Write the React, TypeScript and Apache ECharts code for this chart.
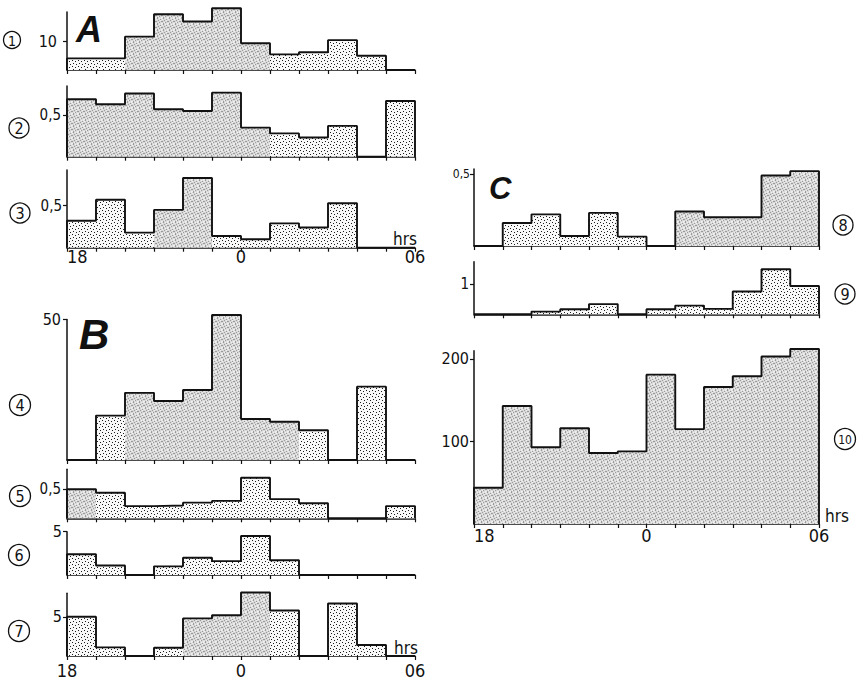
import React, { useEffect, useRef } from 'react';
import * as echarts from 'echarts';

// hourly bins 18:00 -> 06:00
const binStarts = ['18', '19', '20', '21', '22', '23', '00', '01', '02', '03', '04', '05'];
const xTickPositions = [0, 6, 12];
const xTickLabels = ['18', '0', '06'];

// A
const s1 = [4.0, 4.0, 11.5, 19.2, 16.7, 21.3, 9.2, 5.4, 6.1, 10.3, 4.9, 0];
const s2 = [0.69, 0.63, 0.76, 0.57, 0.55, 0.77, 0.35, 0.28, 0.23, 0.37, 0, 0.67];
const s3 = [0.32, 0.57, 0.18, 0.45, 0.83, 0.14, 0.1, 0.29, 0.24, 0.53, 0, 0];
// B
const s4 = [0, 15.8, 23.9, 21.0, 24.9, 51.6, 14.6, 13.6, 10.6, 0, 26.1, 0];
const s5 = [0.5, 0.44, 0.21, 0.22, 0.27, 0.3, 0.7, 0.33, 0.26, 0, 0, 0.21];
const s6 = [2.4, 1.1, 0, 1.0, 2.0, 1.6, 4.5, 1.7, 0, 0, 0, 0];
const s7 = [5.0, 1.1, 0, 1.05, 4.8, 5.2, 8.1, 5.8, 0, 6.7, 1.4, 0];
// C
const s8 = [0, 0.16, 0.22, 0.07, 0.23, 0.065, 0, 0.24, 0.2, 0.2, 0.49, 0.52];
const s9 = [0, 0, 0.09, 0.17, 0.34, 0, 0.17, 0.29, 0.18, 0.76, 1.5, 0.94];
const s10 = [44, 143, 93, 116, 86, 88, 181, 115, 166, 179, 203, 212];

const yTicks1 = [10];
const yTicks2 = [0.5];
const yTicks3 = [0.5];
const yTicks4 = [50];
const yTicks5 = [0.5];
const yTicks6 = [5];
const yTicks7 = [5];
const yTicks8 = [0.5];
const yTicks9 = [1];
const yTicks10 = [100, 200];

const panelLabels = ['1', '2', '3', '4', '5', '6', '7', '8', '9', '10'];
const groupLetters = ['A', 'B', 'C'];

const FONT = "'DejaVu Sans Condensed', 'DejaVu Sans', sans-serif";
const INK = '#111';

function makeTile(size: number, bg: string, marks: [number, number, string][]) {
  const c = document.createElement('canvas');
  c.width = size;
  c.height = size;
  const ctx = c.getContext('2d')!;
  ctx.fillStyle = bg;
  ctx.fillRect(0, 0, size, size);
  marks.forEach(([x, y, col]) => {
    ctx.fillStyle = col;
    ctx.fillRect(x, y, 1, 1);
  });
  return { image: c.toDataURL(), repeat: 'repeat', imageWidth: size, imageHeight: size };
}

export default function App() {
  const ref = useRef<HTMLDivElement>(null);

  useEffect(() => {
    const D = '#1c1c1c';
    const dotFill = makeTile(6, '#f8f8f8', [
      [0, 0, D], [3, 1, D], [1, 3, D], [4, 4, D],
    ]);
    const G = '#9a9a9a';
    const L = '#efefef';
    const grayFill = makeTile(6, '#d8d8d8', [
      [1, 0, G], [4, 1, G], [2, 2, G], [0, 3, G], [5, 3, G], [3, 4, G], [1, 5, G],
      [3, 0, L], [0, 1, L], [5, 0, L], [4, 2, L], [2, 4, L], [5, 5, L], [0, 5, L],
    ]);

    const all = [0, 1, 2, 3, 4, 5, 6, 7, 8, 9, 10, 11];
    const panels: any[] = [
      { data: s1, left: 67, top: 12, width: 348, height: 58, ymax: 20, ticks: yTicks1, gray: [2, 3, 4, 5, 6], yMargin: 10, yFont: 16, xl: false },
      { data: s2, left: 67, top: 86, width: 348, height: 70.7, ymax: 0.85, ticks: yTicks2, gray: [0, 1, 2, 3, 4, 5, 6], yMargin: 6, yFont: 15, xl: false },
      { data: s3, left: 67, top: 170, width: 348, height: 77.7, ymax: 0.925, ticks: yTicks3, gray: [3, 4], yMargin: 5, yFont: 15, xl: true, xMargin: 0, nameGap: 2, nameAlign: 'right', minLeft: true },
      { data: s4, left: 67, top: 319.5, width: 348, height: 140.5, ymax: 50, ticks: yTicks4, gray: [2, 3, 4, 5, 6, 7], yMargin: 6, yFont: 16, xl: false },
      { data: s5, left: 67, top: 469.3, width: 348, height: 49, ymax: 0.845, ticks: yTicks5, gray: [0], yMargin: 6, yFont: 15, xl: false },
      { data: s6, left: 67, top: 531.7, width: 348, height: 43.3, ymax: 5, ticks: yTicks6, gray: [], yMargin: 5, yFont: 16, xl: false },
      { data: s7, left: 67, top: 593.3, width: 348, height: 62.7, ymax: 8, ticks: yTicks7, gray: [4, 5, 6], yMargin: 5, yFont: 16, xl: true, xMargin: 5, nameGap: 3, nameAlign: 'right', minLeft: false },
      { data: s8, left: 474, top: 169, width: 345, height: 77, ymax: 0.535, ticks: yTicks8, gray: [7, 8, 9, 10, 11], yMargin: 4, yFont: 12, xl: false },
      { data: s9, left: 474, top: 261.7, width: 345, height: 52.6, ymax: 1.75, ticks: yTicks9, gray: [], yMargin: 5, yFont: 15, xl: false },
      { data: s10, left: 474, top: 350.7, width: 345, height: 173.3, ymax: 210, ticks: yTicks10, gray: all, yMargin: 5, yFont: 16, xl: true, xMargin: 2, nameGap: 6, nameAlign: 'left', minLeft: true },
    ];

    const circles = [
      { x: 12, y: 40, r: 8.5 },
      { x: 19, y: 128, r: 10 },
      { x: 20, y: 213, r: 10 },
      { x: 20, y: 405, r: 10.5 },
      { x: 20, y: 496, r: 10.5 },
      { x: 19, y: 555, r: 10.5 },
      { x: 19, y: 631, r: 10.5 },
      { x: 843, y: 225, r: 10 },
      { x: 845, y: 294, r: 10 },
      { x: 845, y: 439, r: 10.5 },
    ];
    const letters = [
      { x: 76, y: 29, size: 36 },
      { x: 79, y: 334, size: 42 },
      { x: 489, y: 188, size: 31 },
    ];

    const chart = echarts.init(ref.current!, null, { renderer: 'svg' });

    const lineStyle = { color: INK, width: 1.5 };
    const grid = panels.map((p) => ({
      left: p.left, top: p.top, width: p.width, height: p.height,
      containLabel: false, outerBoundsMode: 'none',
    }));

    const xAxis = panels.map((p, i) => ({
      type: 'value', gridIndex: i, min: 0, max: binStarts.length, interval: 1,
      axisLine: { show: true, onZero: false, lineStyle },
      axisTick: { show: true, length: 4, lineStyle: { color: INK, width: 1.2 } },
      splitLine: { show: false },
      axisLabel: p.xl
        ? {
            show: true, customValues: xTickPositions,
            formatter: (v: number) => {
              const k = xTickPositions.indexOf(v);
              return k >= 0 ? xTickLabels[k] : '';
            },
            alignMinLabel: p.minLeft ? 'left' : 'center',
            fontSize: 18, color: INK, fontFamily: FONT, margin: p.xMargin,
          }
        : { show: false },
      name: p.xl ? 'hrs' : '',
      nameLocation: 'end',
      nameGap: p.nameGap ?? 0,
      nameTextStyle: { fontSize: 17, color: INK, fontFamily: FONT, align: p.nameAlign, verticalAlign: 'bottom' },
    }));

    const yAxis = panels.map((p, i) => ({
      type: 'value', gridIndex: i, min: 0, max: p.ymax,
      axisLine: { show: true, onZero: false, lineStyle },
      axisTick: { show: true, customValues: p.ticks, length: 4, lineStyle: { color: INK, width: 1.2 } },
      axisLabel: {
        show: true, customValues: p.ticks,
        formatter: (v: number) => String(v).replace('.', ','),
        fontSize: p.yFont, color: INK, fontFamily: FONT, margin: p.yMargin,
      },
      splitLine: { show: false },
    }));

    const series: any[] = [];
    panels.forEach((p, i) => {
      series.push({
        type: 'custom', xAxisIndex: i, yAxisIndex: i, silent: true, clip: false, z: 2,
        data: p.data.map((v: number, k: number) => [k, v]),
        renderItem: (_params: any, api: any) => {
          const k = api.value(0);
          const v = api.value(1);
          if (!v) return null;
          const a = api.coord([k, v]);
          const b = api.coord([k + 1, 0]);
          return {
            type: 'rect',
            shape: { x: a[0], y: a[1], width: b[0] - a[0], height: b[1] - a[1] },
            style: { fill: p.gray.includes(k) ? grayFill : dotFill, stroke: null },
          };
        },
      });
      const pts: number[][] = [[0, 0]];
      p.data.forEach((v: number, k: number) => pts.push([k, v]));
      pts.push([p.data.length, p.data[p.data.length - 1]]);
      pts.push([p.data.length, 0]);
      series.push({
        type: 'line', xAxisIndex: i, yAxisIndex: i, silent: true, clip: false, z: 3,
        data: pts, step: 'end', symbol: 'none', showSymbol: false,
        lineStyle: { color: INK, width: 1.9 },
      });
    });

    const graphic: any[] = [];
    circles.forEach((c, i) => {
      graphic.push({
        type: 'circle', shape: { cx: c.x, cy: c.y, r: c.r },
        style: { fill: 'none', stroke: INK, lineWidth: 1.3 },
      });
      graphic.push({
        type: 'text', x: c.x, y: c.y + 0.5,
        style: {
          text: panelLabels[i], fill: INK, fontFamily: FONT,
          fontSize: panelLabels[i].length > 1 ? 12 : i === 0 ? 14 : 16,
          align: 'center', verticalAlign: 'middle',
        },
      });
    });
    letters.forEach((l, i) => {
      graphic.push({
        type: 'text', x: l.x, y: l.y,
        style: {
          text: groupLetters[i], fill: INK, fontFamily: "'Liberation Sans', Arial, sans-serif",
          fontWeight: 'bold', fontStyle: 'italic', fontSize: l.size,
          align: 'left', verticalAlign: 'middle',
        },
      });
    });

    chart.setOption({
      animation: false,
      backgroundColor: '#ffffff',
      grid, xAxis, yAxis, series, graphic,
    });

    return () => chart.dispose();
  }, []);

  return (
    <div
      ref={ref}
      style={{ position: 'fixed', left: 0, top: 0, width: 863, height: 681, background: '#fff' }}
    />
  );
}
